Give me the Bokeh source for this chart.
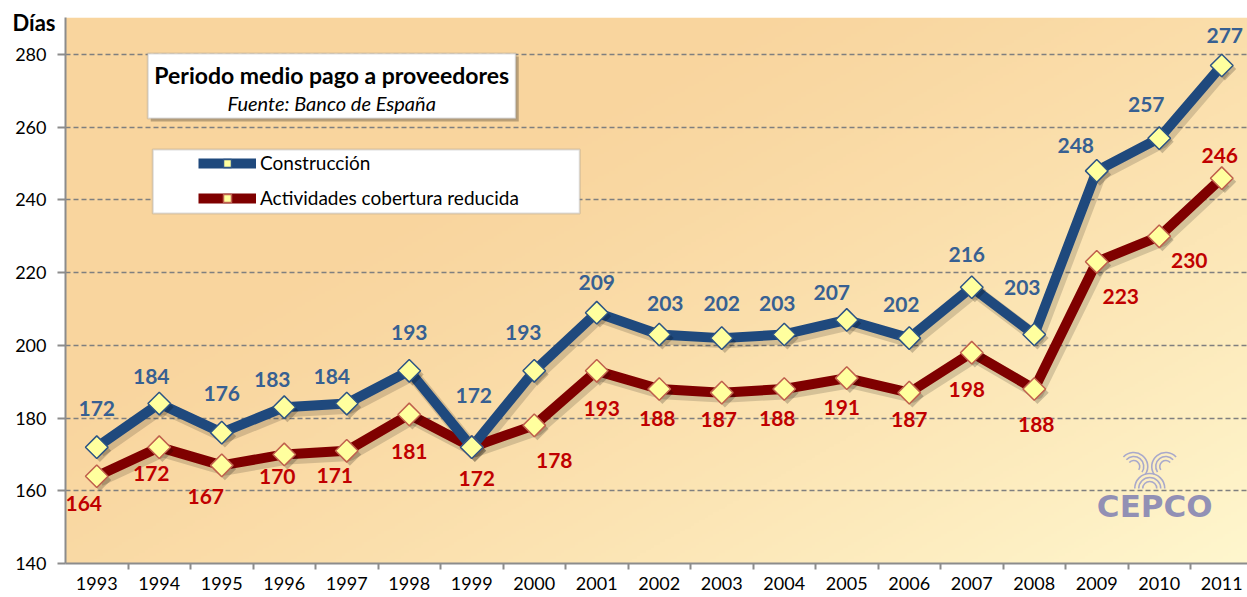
import numpy as np
from bokeh.plotting import figure
from bokeh.models import (Range1d, FixedTicker, ColumnDataSource, Label,
                          BoxAnnotation, Legend, LegendItem)
from bokeh.core.properties import value
from bokeh.embed import file_html
from bokeh.resources import INLINE

# ---------------- data ----------------
years = [1993, 1994, 1995, 1996, 1997, 1998, 1999, 2000, 2001, 2002,
         2003, 2004, 2005, 2006, 2007, 2008, 2009, 2010, 2011]
construccion = [172, 184, 176, 183, 184, 193, 172, 193, 209, 203,
                202, 203, 207, 202, 216, 203, 248, 257, 277]
cobertura = [164, 172, 167, 170, 171, 181, 172, 178, 193, 188,
             187, 188, 191, 187, 198, 188, 223, 230, 246]
y_ticks = [140, 160, 180, 200, 220, 240, 260, 280]
series_names = ["Construcción", "Actividades cobertura reducida"]
title_text = "Periodo medio pago a proveedores"
source_text = "Fuente: Banco de España"
y_unit = "Días"

# label placement (screen px offsets, style only)
blue_dx = [0, -8, 0, -12, -15, 0, 2, -11, 0, 6, 0, -7, -15, -8, -5, -12, -21, -13, 3]
blue_dy = [-39, -27, -39, -28, -27, -38, -52, -38, -30, -31, -35, -31, -27, -34, -33, -47, -25, -34, -30]
red_dx = [-13, -8, -16, -7, -12, 0, 5, 20, 5, -2, -3, -7, -5, 0, -5, 2, 24, 30, -2]
red_dy = [27, 26, 31, 22, 25, 37, 31, 35, 38, 29, 27, 29, 29, 27, 37, 35, 35, 24, -23]

BLUE = "#1F497D"
DARKRED = "#7F0000"
BLUE_TXT = "#376092"
RED_TXT = "#C00000"
FONT = "Lato"

idx = list(range(len(years)))
FW, FH = 1182, 546
x_end = -0.5 + FW / 62.5
y_top = 290.2

p = figure(frame_width=FW, frame_height=FH,
           min_border_left=65, min_border_top=17, min_border_right=0, min_border_bottom=0,
           x_range=Range1d(-0.5, x_end), y_range=Range1d(140, y_top),
           output_backend="svg", toolbar_location=None,
           background_fill_color="white", border_fill_color="white")
p.outline_line_color = None

# unit label "Días" at the top left, via the title
p.title.text = y_unit
p.title.align = "left"
p.title.offset = -53
p.title.standoff = -37
p.title.vertical_align = "bottom"
p.title.text_font = FONT
p.title.text_font_style = "bold"
p.title.text_font_size = "22px"
p.title.text_color = "black"

# ---------------- gradient background ----------------
H, W = 200, 420
yy, xx = np.mgrid[0:H, 0:W]
xn = xx / (W - 1)
yd = 1.0 - yy / (H - 1)   # 0 top, 1 bottom
t = np.clip((0.55 * xn + 0.45 * yd - 0.3) / 0.7, 0, 1) ** 1.3
c0 = np.array([249, 213, 158])
c1 = np.array([255, 247, 206])
img = np.empty((H, W), dtype=np.uint32)
view = img.view(dtype=np.uint8).reshape((H, W, 4))
for k in range(3):
    view[:, :, k] = (c0[k] + (c1[k] - c0[k]) * t).astype(np.uint8)
view[:, :, 3] = 255
p.image_rgba(image=[img], x=-0.5, y=140, dw=x_end + 0.5, dh=y_top - 140, level="image")

# ---------------- axes / grid ----------------
p.ygrid.ticker = FixedTicker(ticks=y_ticks)
p.ygrid.grid_line_color = "#7f7f7f"
p.ygrid.grid_line_dash = "5 3"
p.ygrid.grid_line_width = 1.5
p.xgrid.visible = False

p.yaxis.ticker = FixedTicker(ticks=y_ticks)
p.yaxis.axis_line_color = "#8c8c8c"
p.yaxis.axis_line_width = 2
p.yaxis.major_tick_line_color = "#8c8c8c"
p.yaxis.major_tick_line_width = 2
p.yaxis.major_tick_out = 8
p.yaxis.major_tick_in = 0
p.yaxis.minor_tick_line_color = None
p.yaxis.major_label_standoff = 11
p.yaxis.major_label_text_font = FONT
p.yaxis.major_label_text_font_size = "18px"
p.yaxis.major_label_text_color = "black"

p.xaxis.ticker = FixedTicker(ticks=idx, minor_ticks=[i + 0.5 for i in idx[:-1]])
p.xaxis.major_label_overrides = {i: str(y) for i, y in zip(idx, years)}
p.xaxis.axis_line_color = "#8c8c8c"
p.xaxis.axis_line_width = 2
p.xaxis.major_tick_line_color = None
p.xaxis.major_tick_out = 6
p.xaxis.major_tick_in = 0
p.xaxis.minor_tick_line_color = "#8c8c8c"
p.xaxis.minor_tick_line_width = 2
p.xaxis.minor_tick_out = 6
p.xaxis.minor_tick_in = 0
p.xaxis.major_label_standoff = 7
p.xaxis.major_label_text_font = FONT
p.xaxis.major_label_text_font_size = "18px"
p.xaxis.major_label_text_color = "black"

# ---------------- helpers for decoration placement ----------------
def px2x(px):
    return (px - 97) / 62.5

def px2y(py):
    return 140 + (563 - py) / (FH / (y_top - 140))

# ---------------- logo (decoration) ----------------
LOGO = "#A9A9CB"
for r in (7, 11, 15):
    p.arc(x=px2x(1150), y=px2y(488), radius=r, radius_units="screen",
          start_angle=0, end_angle=np.pi, line_color=LOGO, line_width=1.6)
for cx, a0, a1 in ((1134, -0.6, 2.4), (1166, 0.74, 3.74)):
    for r in (6, 10, 14):
        p.arc(x=px2x(cx), y=px2y(466), radius=r, radius_units="screen",
              start_angle=a0, end_angle=a1, line_color=LOGO, line_width=1.6)

# ---------------- shadows ----------------
sdx, sdy = 0.05, -1.0
for vals in (cobertura, construccion):
    p.line([i + sdx for i in idx], [v + sdy for v in vals], line_color="black",
           line_alpha=0.15, line_width=13, line_join="round")

# ---------------- series ----------------
src_c = ColumnDataSource(dict(x=idx, y=construccion,
                              t=[str(v) for v in construccion], dx=blue_dx, dy=blue_dy))
src_r = ColumnDataSource(dict(x=idx, y=cobertura,
                              t=[str(v) for v in cobertura], dx=red_dx, dy=red_dy))

l_r = p.line("x", "y", source=src_r, line_color=DARKRED, line_width=10, line_join="round")
l_c = p.line("x", "y", source=src_c, line_color=BLUE, line_width=10, line_join="round")

for src in (src_r, src_c):
    p.scatter(x=[i + sdx for i in idx], y=[v + sdy for v in src.data["y"]], marker="square",
              angle=np.pi / 4, size=16, fill_color="black", fill_alpha=0.2, line_color=None)

m_r = p.scatter("x", "y", source=src_r, marker="square", angle=np.pi / 4, size=16,
                fill_color="#FFFF9E", line_color="#C0604D", line_width=1.5)
m_c = p.scatter("x", "y", source=src_c, marker="square", angle=np.pi / 4, size=16,
                fill_color="#FFFF9E", line_color="#2C5485", line_width=1.5)

p.text("x", "y", text="t", source=src_c, x_offset="dx", y_offset="dy",
       text_align="center", text_baseline="middle", text_font=value(FONT),
       text_font_style="bold", text_font_size="21px", text_color=BLUE_TXT)
p.text("x", "y", text="t", source=src_r, x_offset="dx", y_offset="dy",
       text_align="center", text_baseline="middle", text_font=value(FONT),
       text_font_style="bold", text_font_size="21px", text_color=RED_TXT)

# ---------------- title box ----------------
p.add_layout(BoxAnnotation(left=px2x(151), right=px2x(519), top=px2y(56), bottom=px2y(121),
                           fill_color="black", fill_alpha=0.25, line_color=None))
p.add_layout(BoxAnnotation(left=px2x(148), right=px2x(516), top=px2y(53), bottom=px2y(118),
                           fill_color="white", fill_alpha=1, line_color="#8c8c8c", line_width=2))
p.add_layout(Label(x=px2x(332), y=px2y(74), text=title_text, text_align="center",
                   text_baseline="middle", text_font=FONT, text_font_style="bold",
                   text_font_size="23px", text_color="black"))
p.add_layout(Label(x=px2x(332), y=px2y(102), text=source_text, text_align="center",
                   text_baseline="middle", text_font=FONT, text_font_style="italic",
                   text_font_size="20px", text_color="black"))

# ---------------- legend ----------------
p.add_layout(BoxAnnotation(left=px2x(153), right=px2x(580), top=px2y(149), bottom=px2y(213),
                           fill_color="white", fill_alpha=1, line_color="#8c8c8c", line_width=2))
legend = Legend(items=[LegendItem(label=series_names[0], renderers=[l_c, m_c]),
                       LegendItem(label=series_names[1], renderers=[l_r, m_r])],
                location=(133, 354), orientation="vertical",
                background_fill_alpha=0, border_line_color=None,
                padding=2, margin=0, spacing=12,
                glyph_width=58, glyph_height=20, label_height=20, label_standoff=4,
                label_text_font=FONT, label_text_font_size="19px", label_text_color="black")
p.add_layout(legend)

# ---------------- logo text ----------------
p.add_layout(Label(x=px2x(1155), y=px2y(505), text="CEPCO", text_align="center",
                   text_baseline="middle", text_font="DejaVu Sans", text_font_style="bold",
                   text_font_size="31px", text_color="#7F7FB2", text_alpha=0.85))

open("out.html", "w").write(file_html(p, INLINE))
